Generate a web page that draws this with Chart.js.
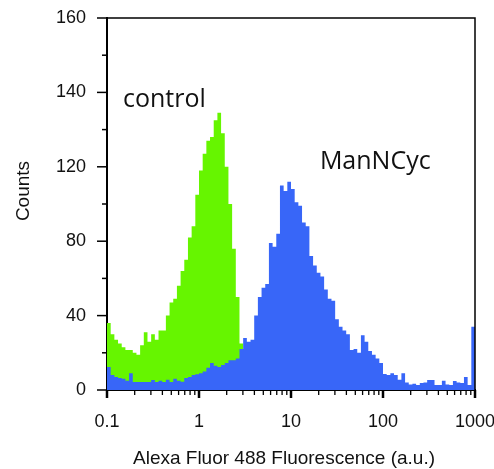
<!DOCTYPE html>
<html lang="en">
<head>
<meta charset="UTF-8" />
<title>Alexa Fluor 488 histogram</title>
<script src="https://cdn.jsdelivr.net/npm/chart.js"></script>
<style>
  html, body { margin: 0; padding: 0; background: #fff; }
  #wrap { width: 494px; height: 469px; position: relative; }
</style>
</head>
<body>
<div id="wrap"><canvas id="histo"></canvas></div>
<script>
  // 100 histogram bins, 0.04 decade each, from 0.1 to 1000
  const logMin = -1;
  const binWidth = 0.04;

  const controlCounts = [
    36, 30, 27, 25, 23, 21.5, 21.5, 20, 19, 24,
    31, 26, 30, 27, 32, 32, 40, 47, 49, 56,
    64, 70, 82, 88, 105, 118, 127, 134, 136, 145,
    149, 138, 120, 100, 76, 50, 25, 0, 0, 0,
    0, 0, 0, 0, 0, 0, 0, 0, 0, 0,
    0, 0, 0, 0, 0, 0, 0, 0, 0, 0,
    0, 0, 0, 0, 0, 0, 0, 0, 0, 0,
    0, 0, 0, 0, 0, 0, 0, 0, 0, 0,
    0, 0, 0, 0, 0, 0, 0, 0, 0, 0,
    0, 0, 0, 0, 0, 0, 0, 0, 0, 0
  ];

  const manncycCounts = [
    12.4, 8, 7, 6.5, 6, 5, 9, 4.3, 4.3, 4.3,
    4.3, 4.3, 5.4, 4.3, 5, 4.3, 5.5, 4.3, 6, 5,
    4.5, 6.5, 7, 8, 8.5, 9, 10, 12, 14.5, 13,
    12.4, 13.5, 14.5, 16, 16, 17, 22, 28, 26, 27,
    40, 50, 55, 57, 79, 77, 84, 110, 107, 112,
    108, 101, 99, 90, 88, 72, 67, 63, 61, 54,
    49, 48, 38, 34, 32, 30, 21.5, 22, 20, 29.5,
    26, 21, 19, 17, 14.5, 8.6, 8, 9, 8, 5.5,
    9, 4, 3, 3.3, 2.7, 3.8, 4, 5.4, 5.4, 2.7,
    2.7, 5, 3, 2.7, 4.8, 4, 3.8, 7, 2.7, 34
  ];

  const xTickLabels = ['0.1', '1', '10', '100', '1000'];
  const yTickLabels = ['0', '40', '80', '120', '140', '160'];
  const xTitle = 'Alexa Fluor 488 Fluorescence (a.u.)';
  const yTitle = 'Counts';

  const seriesNames = ['control', 'ManNCyc'];
  const seriesColors = ['#66f500', '#3866f8'];
  const nameX = [0.149, 20.6];
  const nameY = [152, 119];

  function toSteps(counts) {
    const pts = counts.map((c, i) => ({ x: Math.pow(10, logMin + i * binWidth), y: c }));
    pts.push({ x: Math.pow(10, logMin + counts.length * binWidth), y: counts[counts.length - 1] });
    return pts;
  }

  function isDecade(v) {
    const l = Math.log10(v);
    return Math.abs(l - Math.round(l)) < 1e-9;
  }

  // tick marks (long for labelled ones), top/right frame, axis titles, series names
  const frameAndTicks = {
    id: 'frameAndTicks',
    afterDraw(chart) {
      const { ctx, chartArea: a, scales: { x, y } } = chart;
      ctx.save();
      ctx.strokeStyle = '#000';

      ctx.lineWidth = 1.5;
      ctx.beginPath();
      ctx.moveTo(a.left, a.top);
      ctx.lineTo(a.right, a.top);
      ctx.lineTo(a.right, a.bottom);
      ctx.stroke();

      x.ticks.forEach(t => {
        const px = x.getPixelForValue(t.value);
        const major = isDecade(t.value);
        ctx.lineWidth = major ? 2.5 : 1.3;
        ctx.beginPath();
        ctx.moveTo(px, a.bottom);
        ctx.lineTo(px, a.bottom + (major ? 8 : 5));
        ctx.stroke();
      });

      y.ticks.forEach(t => {
        const py = y.getPixelForValue(t.value);
        const major = t.value % 40 === 0;
        ctx.lineWidth = 1.5;
        ctx.beginPath();
        ctx.moveTo(a.left, py);
        ctx.lineTo(a.left - (major ? 10 : 5), py);
        ctx.stroke();
      });

      ctx.fillStyle = '#111';
      ctx.font = '19px "Liberation Sans", Arial, sans-serif';
      ctx.textAlign = 'center';
      ctx.textBaseline = 'middle';
      ctx.fillText(xTitle, a.left + 177, a.bottom + 69);
      ctx.save();
      ctx.translate(24, a.top + 173);
      ctx.rotate(-Math.PI / 2);
      ctx.fillText(yTitle, 0, 0);
      ctx.restore();

      ctx.font = '25px "Open Sans"';
      ctx.textAlign = 'left';
      ctx.textBaseline = 'alphabetic';
      seriesNames.forEach((n, i) => {
        ctx.fillText(n, x.getPixelForValue(nameX[i]), y.getPixelForValue(nameY[i]));
      });
      ctx.restore();
    }
  };

  Chart.defaults.font.family = '"Liberation Sans", Arial, sans-serif';
  Chart.defaults.font.size = 18;
  Chart.defaults.color = '#111';

  new Chart(document.getElementById('histo'), {
    type: 'line',
    data: {
      datasets: [
        {
          label: seriesNames[0],
          data: toSteps(controlCounts),
          backgroundColor: seriesColors[0],
          borderWidth: 0,
          fill: 'origin',
          stepped: true,
          pointRadius: 0,
          order: 1
        },
        {
          // blue histogram sits in front of the green one
          label: seriesNames[1],
          data: toSteps(manncycCounts),
          backgroundColor: seriesColors[1],
          borderWidth: 0,
          fill: 'origin',
          stepped: true,
          pointRadius: 0,
          order: 0
        }
      ]
    },
    options: {
      responsive: true,
      maintainAspectRatio: false,
      animation: false,
      layout: { padding: { top: 18, right: 19, left: 0, bottom: 0 } },
      plugins: {
        legend: { display: false },
        tooltip: { enabled: false }
      },
      scales: {
        x: {
          type: 'logarithmic',
          min: 0.1,
          max: 1000,
          afterBuildTicks: scale => {
            const ticks = [];
            for (let d = -1; d < 3; d++) {
              for (let m = 1; m < 10; m++) ticks.push({ value: m * Math.pow(10, d) });
            }
            ticks.push({ value: 1000 });
            scale.ticks = ticks;
          },
          afterFit: scale => {
            scale.height = 79;
            scale.paddingLeft = 0;
            scale.paddingRight = 0;
          },
          grid: { display: false, drawTicks: false },
          border: { display: true, color: '#000', width: 2 },
          ticks: {
            autoSkip: false,
            maxRotation: 0,
            padding: 21,
            color: '#111',
            callback: v => isDecade(v) ? xTickLabels[Math.round(Math.log10(v)) + 1] : ''
          }
        },
        y: {
          min: 0,
          max: 200,
          afterFit: scale => {
            scale.width = 107;
            scale.paddingTop = 0;
            scale.paddingBottom = 0;
          },
          grid: { display: false, drawTicks: false },
          border: { display: true, color: '#000', width: 2 },
          ticks: {
            stepSize: 20,
            padding: 21,
            color: '#111',
            callback: v => v % 40 === 0 ? yTickLabels[v / 40] : ''
          }
        }
      }
    },
    plugins: [frameAndTicks]
  });
</script>
</body>
</html>
